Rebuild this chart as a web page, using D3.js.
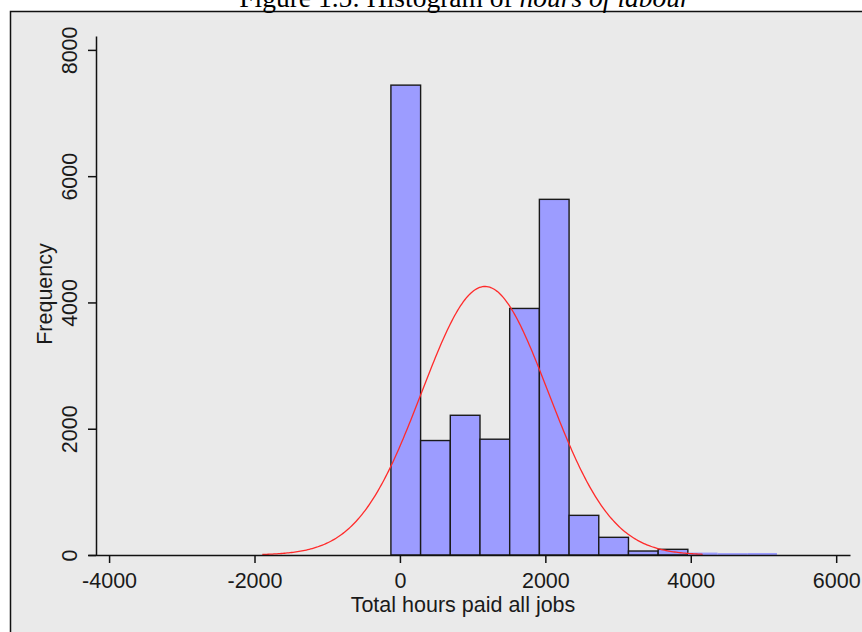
<!DOCTYPE html>
<html>
<head>
<meta charset="utf-8">
<script src="https://cdn.jsdelivr.net/npm/d3@7"></script>
<style>
  html, body { margin: 0; padding: 0; background: #ffffff; }
  svg { display: block; }
</style>
</head>
<body>
<svg id="chart" width="862" height="632"></svg>
<script>
// ---- data ----
const binStart = -124;          // lower edge of first bin (hours)
const binWidth = 408.4;         // width of each bin (hours)
const counts = [7442, 1813, 2213, 1834, 3905, 5633, 628, 280, 63, 90, 38, 30, 32];
const xTicks = [-4000, -2000, 0, 2000, 4000, 6000];
const yTicks = [0, 2000, 4000, 6000, 8000];
// normal overlay parameters (fitted curve)
const normalMean = 1170;
const normalSd = 870;
const normalPeak = 4253;
const curveRange = [-1893, 4163];

const titleMain = "Figure 1.5: Histogram of ";
const titleItalic = "hours of labour";
const xTitle = "Total hours paid all jobs";
const yTitle = "Frequency";

// ---- layout ----
const svg = d3.select("#chart");
const x = d3.scaleLinear().domain([-4290, 6190]).range([88, 850]);
const y = d3.scaleLinear().domain([0, 8220]).range([555, 36]);
const font = "'Liberation Sans', Arial, sans-serif";
const fmt = d => String(d);

// frame / background
svg.append("rect")
  .attr("x", 10.5).attr("y", 11.5)
  .attr("width", 900).attr("height", 700)
  .attr("fill", "#eaeaea")
  .attr("stroke", "#111").attr("stroke-width", 1.5);

// title (partly cut off at top, as in the reference)
const t = svg.append("text")
  .attr("x", 465).attr("y", 7)
  .attr("text-anchor", "middle")
  .attr("font-family", "'Liberation Serif', 'Times New Roman', serif")
  .attr("font-size", 27.5)
  .attr("fill", "#000");
t.append("tspan").text(titleMain);
t.append("tspan").attr("font-style", "italic").text(titleItalic);

// bars
const bins = counts.map((c, i) => ({ x0: binStart + i * binWidth, x1: binStart + (i + 1) * binWidth, c }));
svg.append("g").selectAll("rect")
  .data(bins)
  .join("rect")
  .attr("x", d => x(d.x0))
  .attr("width", d => x(d.x1) - x(d.x0))
  .attr("y", d => y(d.c))
  .attr("height", d => y(0) - y(d.c))
  .attr("fill", "#9c9cff")
  .attr("stroke", d => (y(0) - y(d.c)) > 3 ? "#1a1a1a" : "none")
  .attr("stroke-width", 1.4);

// normal curve
const pts = d3.range(0, 301).map(i => {
  const v = curveRange[0] + (curveRange[1] - curveRange[0]) * i / 300;
  return [v, normalPeak * Math.exp(-((v - normalMean) ** 2) / (2 * normalSd * normalSd))];
});
svg.append("path")
  .datum(pts)
  .attr("fill", "none")
  .attr("stroke", "#ff2b2b")
  .attr("stroke-width", 1.3)
  .attr("d", d3.line().x(d => x(d[0])).y(d => y(d[1])));

// x axis
const gx = svg.append("g")
  .attr("transform", `translate(0,${y(0)})`)
  .call(d3.axisBottom(x).tickValues(xTicks).tickSize(8).tickSizeOuter(0).tickPadding(10).tickFormat(fmt));
gx.selectAll("path, line").attr("stroke", "#111").attr("stroke-width", 1.5);
gx.selectAll("text").attr("font-family", font).attr("font-size", 21.5).attr("fill", "#1a1a1a");

// y axis
const gy = svg.append("g")
  .attr("transform", `translate(${x.range()[0] + 8},0)`)
  .call(d3.axisLeft(y).tickValues(yTicks).tickSize(8).tickSizeOuter(0).tickFormat(fmt));
gy.selectAll("path, line").attr("stroke", "#111").attr("stroke-width", 1.5);
gy.selectAll("text")
  .attr("x", null).attr("dy", null)
  .attr("transform", "translate(-19,0) rotate(-90)")
  .attr("text-anchor", "middle")
  .attr("font-family", font).attr("font-size", 21.5).attr("fill", "#1a1a1a");
svg.selectAll(".domain").attr("fill", "none");

// axis titles
svg.append("text")
  .attr("x", 463).attr("y", 612)
  .attr("text-anchor", "middle")
  .attr("font-family", font).attr("font-size", 21.5).attr("fill", "#1a1a1a")
  .text(xTitle);
svg.append("text")
  .attr("transform", "translate(52,294) rotate(-90)")
  .attr("text-anchor", "middle")
  .attr("font-family", font).attr("font-size", 21.5).attr("fill", "#1a1a1a")
  .text(yTitle);
</script>
</body>
</html>
